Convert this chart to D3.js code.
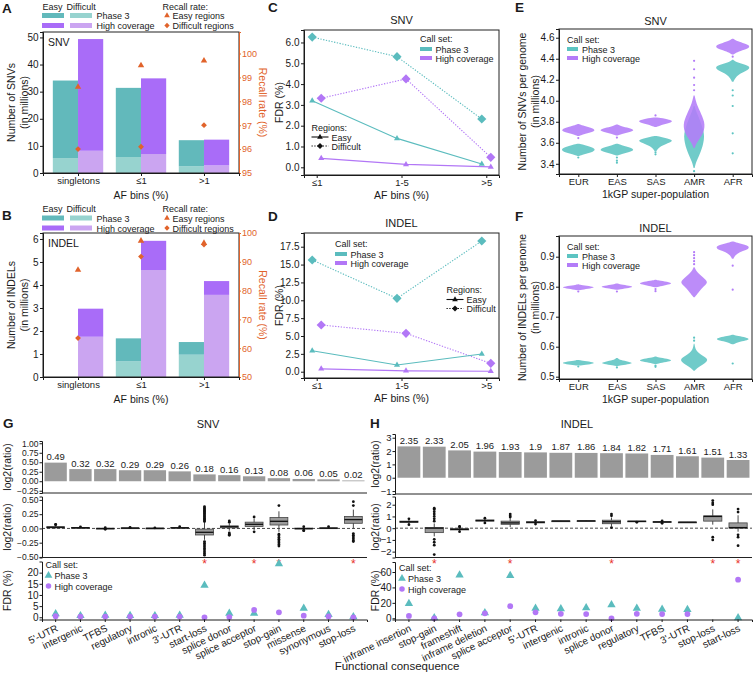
<!DOCTYPE html>
<html><head><meta charset="utf-8">
<script src="https://cdn.jsdelivr.net/npm/d3@7/dist/d3.min.js"></script>
<style>html,body{margin:0;padding:0;background:#fff;} svg{display:block;}</style>
</head><body>
<svg id="fig" width="754" height="675"></svg>
<script>
// ================= DATA =================
// Panels A / B
const afBinsAB = ["singletons", "≤1", ">1"];
const snvPhase3Total = [34.1, 31.4, 12.1];
const snvPhase3Difficult = [5.5, 5.9, 2.5];
const snvHighCovTotal = [49.4, 34.9, 12.3];
const snvHighCovDifficult = [8.2, 7.0, 2.8];
const snvRecallEasy = [98.6, 99.5, 99.7];
const snvRecallDifficult = [96.0, 96.1, 97.0];
const indelPhase3Total = [0, 1.68, 1.52];
const indelPhase3Difficult = [0, 0.68, 0.97];
const indelHighCovTotal = [2.97, 5.92, 4.17];
const indelHighCovDifficult = [1.75, 4.65, 3.57];
const indelRecallEasy = [87.2, 97.3, 96.5];
const indelRecallDifficult = [63.5, 91.8, 96.0];
const snvCountTicks = [0, 10, 20, 30, 40, 50];
const snvRecallTicks = [95, 96, 97, 98, 99, 100];
const indelCountTicks = [0, 1, 2, 3, 4, 5, 6];
const indelRecallTicks = [50, 60, 70, 80, 90, 100];

// Panels C / D
const afBinsCD = ["≤1", "1-5", ">5"];
const snvFdrP3Easy = [3.2, 1.39, 0.16];
const snvFdrP3Difficult = [6.26, 5.32, 2.32];
const snvFdrHCEasy = [0.43, 0.14, 0.02];
const snvFdrHCDifficult = [3.32, 4.25, 0.48];
const indelFdrP3Easy = [2.94, 0.94, 2.48];
const indelFdrP3Difficult = [15.64, 10.27, 18.3];
const indelFdrHCEasy = [0.4, 0.12, 0.06];
const indelFdrHCDifficult = [6.54, 5.37, 1.17];
const snvFdrTicks = [0, 1, 2, 3, 4, 5, 6];
const indelFdrTicks = [0, 2.5, 5, 7.5, 10, 12.5, 15, 17.5];

// Panels E / F : density profiles [value, relative width]
const populations = ["EUR", "EAS", "SAS", "AMR", "AFR"];
const snvSwarmPhase3 = [
  [[3.475,0.05],[3.495,0.45],[3.515,0.9],[3.535,1.0],[3.555,0.85],[3.575,0.45],[3.59,0.05]],
  [[3.48,0.05],[3.50,0.45],[3.52,0.9],[3.535,1.0],[3.555,0.8],[3.575,0.3],[3.59,0.05]],
  [[3.52,0.05],[3.56,0.2],[3.59,0.65],[3.61,0.95],[3.625,1.0],[3.645,0.6],[3.665,0.05]],
  [[3.36,0.03],[3.42,0.12],[3.48,0.3],[3.54,0.45],[3.60,0.55],[3.66,0.6],[3.72,0.55],[3.78,0.42],[3.84,0.28],[3.90,0.12],[3.95,0.03]],
  [[4.18,0.04],[4.22,0.15],[4.26,0.45],[4.29,0.85],[4.31,1.0],[4.33,0.95],[4.35,0.6],[4.37,0.2],[4.39,0.03]]
];
const snvSwarmHighCov = [
  [[3.665,0.05],[3.685,0.4],[3.705,0.9],[3.725,1.0],[3.745,0.7],[3.765,0.25],[3.78,0.03]],
  [[3.67,0.05],[3.69,0.45],[3.71,0.95],[3.725,1.0],[3.745,0.6],[3.765,0.15],[3.775,0.03]],
  [[3.75,0.05],[3.775,0.45],[3.795,0.95],[3.81,1.0],[3.825,0.75],[3.84,0.1]],
  [[3.55,0.03],[3.60,0.15],[3.65,0.38],[3.70,0.55],[3.75,0.62],[3.80,0.6],[3.85,0.48],[3.90,0.35],[3.95,0.2],[4.00,0.1],[4.05,0.03]],
  [[4.44,0.04],[4.47,0.35],[4.49,0.8],[4.51,1.0],[4.53,0.95],[4.55,0.6],[4.57,0.2],[4.59,0.03]]
];
const snvOutPhase3 = [[3.46], [3.41, 3.43, 3.46], [3.49, 3.51], [3.33], [4.1, 4.05, 3.95, 3.69, 3.5]];
const snvOutHighCov = [[3.645], [3.65], [3.86], [4.1, 4.15, 4.22, 4.3, 4.38], [4.42]];
const snvSwarmTicks = [3.4, 3.6, 3.8, 4.0, 4.2, 4.4, 4.6];

const indelSwarmPhase3 = [
  [[0.537,0.05],[0.541,0.6],[0.545,1.0],[0.549,0.8],[0.553,0.2],[0.556,0.03]],
  [[0.536,0.05],[0.540,0.5],[0.545,1.0],[0.550,0.7],[0.555,0.2],[0.562,0.04]],
  [[0.542,0.05],[0.548,0.5],[0.553,1.0],[0.558,0.85],[0.563,0.25],[0.567,0.03]],
  [[0.52,0.03],[0.53,0.2],[0.54,0.5],[0.55,0.75],[0.56,0.8],[0.57,0.5],[0.58,0.25],[0.59,0.1],[0.60,0.05],[0.61,0.02]],
  [[0.608,0.04],[0.615,0.3],[0.621,0.8],[0.626,1.0],[0.631,0.8],[0.636,0.3],[0.640,0.04]]
];
const indelSwarmHighCov = [
  [[0.788,0.05],[0.793,0.6],[0.797,1.0],[0.801,0.8],[0.805,0.2],[0.808,0.03]],
  [[0.790,0.05],[0.795,0.6],[0.799,1.0],[0.803,0.75],[0.807,0.2],[0.811,0.04]],
  [[0.798,0.05],[0.804,0.5],[0.810,1.0],[0.815,0.85],[0.820,0.25],[0.823,0.03]],
  [[0.765,0.03],[0.78,0.25],[0.795,0.45],[0.805,0.65],[0.815,0.8],[0.825,0.65],[0.835,0.45],[0.845,0.25],[0.855,0.1],[0.865,0.03]],
  [[0.893,0.04],[0.905,0.15],[0.915,0.4],[0.922,0.8],[0.930,1.0],[0.938,0.85],[0.945,0.35],[0.951,0.04]]
];
const indelOutPhase3 = [[0.534], [0.531], [0.537, 0.533], [0.62, 0.63], [0.544]];
const indelOutHighCov = [[0.784], [0.784], [0.792, 0.785], [0.875, 0.885, 0.895, 0.905, 0.915], [0.87, 0.79]];
const indelSwarmTicks = [0.5, 0.6, 0.7, 0.8, 0.9];

// Panel G (SNV functional consequences)
const snvConsequences = ["5'-UTR","intergenic","TFBS","regulatory","intronic","3'-UTR","start-loss","splice donor","splice acceptor","stop-gain","missense","synonymous","stop-loss"];
const snvLog2Ratio = [0.49, 0.32, 0.32, 0.29, 0.29, 0.26, 0.18, 0.16, 0.13, 0.08, 0.06, 0.05, 0.02];
const snvBoxQ1 =  [0.01, 0.008, -0.006, 0.003, 0.0, 0.005, -0.115, 0.01, 0.035, 0.06, -0.01, 0.0, 0.09];
const snvBoxMed = [0.02, 0.012, -0.002, 0.006, 0.002, 0.01, -0.068, 0.03, 0.072, 0.125, -0.003, 0.005, 0.155];
const snvBoxQ3 =  [0.03, 0.016, 0.003, 0.01, 0.005, 0.017, -0.012, 0.045, 0.11, 0.19, 0.005, 0.01, 0.21];
const snvBoxLo =  [0.0, 0.004, -0.012, -0.002, -0.003, -0.003, -0.2, -0.04, -0.03, -0.06, -0.025, -0.005, 0.0];
const snvBoxHi =  [0.05, 0.022, 0.008, 0.015, 0.008, 0.025, 0.1, 0.09, 0.17, 0.3, 0.02, 0.02, 0.33];
const snvBoxOutliers = [
  [0.07, 0.065], [0.028], [-0.015, 0.012], [0.02], [0.01], [0.03],
  [0.12,0.14,0.16,0.18,0.2,0.22,0.24,0.26,0.28,0.3,0.32,0.34,0.36,0.38,-0.23,-0.26,-0.29,-0.32,-0.35,-0.38,-0.41,-0.44,-0.47],
  [0.13, 0.11, -0.08, -0.1, -0.12], [0.2, -0.06],
  [0.4, -0.1, -0.13, -0.16, -0.19, -0.22, -0.25, -0.28, -0.31],
  [0.03, -0.04, -0.035], [0.03],
  [0.4, 0.47, -0.09, -0.12, -0.15, -0.18, -0.21, -0.23]
];
const snvFdrPhase3 = [1.5, 0.7, 0.9, 0.8, 0.7, 0.9, 14.3, 1.8, 1.8, 24.0, 4.0, 1.2, 0.2];
const snvFdrHighCov = [0.5, 0.3, 0.3, 0.3, 0.3, 0.3, 0.0, 0.1, 3.3, 2.2, 0.7, 0.4, 0.0];
const snvSignificant = ["start-loss", "splice acceptor", "stop-gain", "stop-loss"];
const snvTopTicks = [-0.25, 0, 0.25, 0.5, 0.75, 1.0];
const snvMidTicks = [-0.5, -0.25, 0, 0.25, 0.5];
const snvFdrAxisTicks = [0, 5, 10, 15, 20];

// Panel H (INDEL functional consequences)
const indelConsequences = ["inframe insertion","stop-gain","frameshift","inframe deletion","splice acceptor","5'-UTR","intergenic","intronic","splice donor","regulatory","TFBS","3'-UTR","stop-loss","start-loss"];
const indelLog2Ratio = [2.35, 2.33, 2.05, 1.96, 1.93, 1.9, 1.87, 1.86, 1.84, 1.82, 1.71, 1.61, 1.51, 1.33];
const indelBoxQ1 =  [0.48, -0.38, -0.15, 0.6, 0.33, 0.45, 0.6, 0.61, 0.38, 0.55, 0.5, 0.5, 0.6, 0.0];
const indelBoxMed = [0.55, 0.0, -0.1, 0.65, 0.45, 0.5, 0.61, 0.62, 0.55, 0.58, 0.53, 0.51, 1.0, 0.05];
const indelBoxQ3 =  [0.6, 0.05, -0.05, 0.7, 0.6, 0.55, 0.62, 0.63, 0.68, 0.61, 0.56, 0.52, 1.05, 0.45];
const indelBoxLo =  [0.35, -0.7, -0.25, 0.5, 0.1, 0.4, 0.59, 0.6, 0.15, 0.52, 0.45, 0.49, 0.3, -0.3];
const indelBoxHi =  [0.7, 0.4, 0.05, 0.8, 0.85, 0.6, 0.63, 0.64, 0.9, 0.63, 0.6, 0.53, 1.6, 1.1];
const indelBoxOutliers = [
  [0.8, 0.3], [0.6, 0.8, 1.0, 1.2, 1.4, 1.6, 1.7, -0.95, -1.2, -1.45, -2.25], [0.15, 0.1, -0.3], [0.85, 0.45],
  [0.95, 1.05, 1.2], [0.35, 0.65], [], [], [1.05, 1.2, 0.05], [0.5], [0.42, 0.62], [],
  [2.0, 2.15, 2.35, -0.77, -1.0], [1.37, 1.63, -0.57, -0.77, -1.49]
];
const indelFdrPhase3 = [19.1, 0.5, 56.0, 7.0, 55.5, 13.0, 12.2, 13.5, 17.4, 13.0, 11.7, 11.3, null, 0.5];
const indelFdrHighCov = [3.0, 0.0, 5.2, 6.5, 15.6, 7.8, 5.7, 5.5, 0.0, 5.7, 5.5, 5.5, null, 50.0];
const indelSignificant = ["stop-gain", "splice acceptor", "splice donor", "stop-loss", "start-loss"];
const indelTopTicks = [-1, 0, 1, 2, 3];
const indelMidTicks = [-2, -1, 0, 1, 2];
const indelFdrAxisTicks = [0, 20, 40, 60];

// ================= DRAWING =================
const svg = d3.select("#fig");
const FONT = "'Liberation Sans', Arial, Helvetica, sans-serif";
svg.attr("font-family", FONT);
const COL = {
  teal: "#62b9bb", tealL: "#97d3cf", purp: "#a96cf8", purpL: "#cba5f1",
  orange: "#e1632b", ink: "#222", lineTeal: "#5bbcbe", linePurp: "#b277f6",
  swTeal: "#5cc4c2", swPurp: "#b37cf8", bar: "#9b9b9b", red: "#e8312a"
};
const TXT = "#1a1a1a";
const LEG = 9;

function label(x, y, s, o = {}) {
  const t = svg.append("text").attr("x", x).attr("y", y).text(s)
    .attr("font-size", o.size || 10).attr("fill", o.fill || TXT)
    .attr("text-anchor", o.anchor || "start");
  if (o.weight) t.attr("font-weight", o.weight);
  if (o.rotate) t.attr("transform", `rotate(${o.rotate},${x},${y})`);
  return t;
}
function styleAxis(g, color, fs) {
  g.attr("font-family", FONT).attr("font-size", fs);
  g.selectAll("text").attr("fill", color);
  g.selectAll(".tick line").attr("stroke", color);
  g.select(".domain").attr("stroke", color);
}
function marker(g, type, x, y, size, fill) {
  const sym = type === "tri" ? d3.symbolTriangle : type === "dia" ? d3.symbolSquare : d3.symbolCircle;
  g.append("path").attr("d", d3.symbol(sym, size)()).attr("fill", fill)
    .attr("transform", `translate(${x},${y})` + (type === "dia" ? " rotate(45)" : ""));
}
function frame(g, x0, x1, yT, yB) {
  g.append("rect").attr("x", x0).attr("y", yT).attr("width", x1 - x0).attr("height", yB - yT)
    .attr("fill", "none").attr("stroke", COL.ink).attr("stroke-width", 1);
}
const fmtInt = d3.format("d");

// ---------- A / B ----------
function barPanel(o) {
  const g = svg.append("g");
  const x = d3.scalePoint(afBinsAB, [o.x0, o.x1]).padding(0.556);
  const y = d3.scaleLinear([0, o.yMax], [o.yB, o.yT]);
  const yr = d3.scaleLinear(o.rDom, [o.yB, o.yT]);
  const bw = x.step() * 0.4;
  [{tot: o.p3Tot, dif: o.p3Dif, off: -bw, dark: COL.teal, light: COL.tealL},
   {tot: o.hcTot, dif: o.hcDif, off: 0, dark: COL.purp, light: COL.purpL}].forEach(s => {
    afBinsAB.forEach((c, i) => {
      if (!(s.tot[i] > 0)) return;
      g.append("rect").attr("x", x(c) + s.off).attr("width", bw)
        .attr("y", y(s.dif[i])).attr("height", y(0) - y(s.dif[i])).attr("fill", s.light);
      g.append("rect").attr("x", x(c) + s.off).attr("width", bw)
        .attr("y", y(s.tot[i])).attr("height", y(s.dif[i]) - y(s.tot[i])).attr("fill", s.dark);
    });
  });
  afBinsAB.forEach((c, i) => {
    marker(g, "tri", x(c), yr(o.recE[i]), 18, COL.orange);
    marker(g, "dia", x(c), yr(o.recD[i]), 17, COL.orange);
  });
  frame(g, o.x0, o.x1, o.yT, o.yB);
  styleAxis(g.append("g").attr("transform", `translate(${o.x0},0)`)
    .call(d3.axisLeft(y).tickValues(o.lTicks).tickFormat(fmtInt).tickSize(3).tickPadding(1.5)), TXT, 10);
  styleAxis(g.append("g").attr("transform", `translate(${o.x1},0)`)
    .call(d3.axisRight(yr).tickValues(o.rTicks).tickFormat(fmtInt).tickSize(2).tickPadding(1)), COL.orange, 9);
  styleAxis(g.append("g").attr("transform", `translate(0,${o.yB})`)
    .call(d3.axisBottom(x).tickSize(3).tickPadding(1.5)), TXT, 9.5);
  const cy = (o.yT + o.yB) / 2;
  label(14.5, cy, o.ylab, {size: 10.5, anchor: "middle", rotate: -90});
  label(28, cy, "(in millions)", {size: 10.5, anchor: "middle", rotate: -90});
  label(258.5, cy, "Recall rate (%)", {size: 10.5, anchor: "middle", rotate: 90, fill: COL.orange});
  label((o.x0 + o.x1) / 2, o.yB + 26, "AF bins (%)", {size: 10.5, anchor: "middle"});
  label(o.x0 + 5, o.yT + 14, o.inner, {size: 10.5});
  // legend
  const ly = o.legY;
  label(42.5, ly, "Easy", {size: LEG});
  label(66.5, ly, "Difficult", {size: LEG});
  g.append("rect").attr("x", 42).attr("y", ly + 3.5).attr("width", 22).attr("height", 5).attr("fill", COL.teal);
  g.append("rect").attr("x", 70).attr("y", ly + 3.5).attr("width", 22).attr("height", 5).attr("fill", COL.tealL);
  g.append("rect").attr("x", 42).attr("y", ly + 13.5).attr("width", 22).attr("height", 5).attr("fill", COL.purp);
  g.append("rect").attr("x", 70).attr("y", ly + 13.5).attr("width", 22).attr("height", 5).attr("fill", COL.purpL);
  label(96.5, ly + 9.5, "Phase 3", {size: LEG});
  label(96.5, ly + 19.5, "High coverage", {size: LEG});
  label(162.5, ly, "Recall rate:", {size: LEG});
  marker(g, "tri", 167, ly + 6, 14, COL.orange);
  marker(g, "dia", 167, ly + 16, 14, COL.orange);
  label(172.5, ly + 9.5, "Easy regions", {size: LEG});
  label(172.5, ly + 19.5, "Difficult regions", {size: LEG});
}

barPanel({x0: 43, x1: 239, yT: 32, yB: 173, yMax: 52, rDom: [95, 100.9],
  p3Tot: snvPhase3Total, p3Dif: snvPhase3Difficult, hcTot: snvHighCovTotal, hcDif: snvHighCovDifficult,
  recE: snvRecallEasy, recD: snvRecallDifficult, lTicks: snvCountTicks, rTicks: snvRecallTicks,
  ylab: "Number of SNVs", inner: "SNV", legY: 9.5});
barPanel({x0: 43, x1: 239, yT: 233, yB: 377, yMax: 6.26, rDom: [50, 100],
  p3Tot: indelPhase3Total, p3Dif: indelPhase3Difficult, hcTot: indelHighCovTotal, hcDif: indelHighCovDifficult,
  recE: indelRecallEasy, recD: indelRecallDifficult, lTicks: indelCountTicks, rTicks: indelRecallTicks,
  ylab: "Number of INDELs", inner: "INDEL", legY: 212});

// ---------- C / D ----------
function linePanel(o) {
  const g = svg.append("g");
  const x = d3.scalePoint(afBinsCD, [o.x0, o.x1]).padding(0.15);
  const y = d3.scaleLinear(o.dom, [o.yB, o.yT]);
  const series = [
    {v: o.p3D, col: COL.lineTeal, dash: "1.3,1.5", sym: "dia", dx: -4.5},
    {v: o.hcD, col: COL.linePurp, dash: "1.3,1.5", sym: "dia", dx: 4.5},
    {v: o.p3E, col: COL.lineTeal, dash: null, sym: "tri", dx: -4.5},
    {v: o.hcE, col: COL.linePurp, dash: null, sym: "tri", dx: 4.5}];
  series.forEach(s => {
    const line = d3.line().x((d, i) => x(afBinsCD[i]) + s.dx).y(d => y(d));
    g.append("path").datum(s.v).attr("d", line).attr("fill", "none").attr("stroke", s.col)
      .attr("stroke-width", 1.1).attr("stroke-dasharray", s.dash);
    s.v.forEach((d, i) => marker(g, s.sym, x(afBinsCD[i]) + s.dx, y(d), s.sym === "dia" ? 42 : 16, s.col));
  });
  frame(g, o.x0, o.x1, o.yT, o.yB);
  styleAxis(g.append("g").attr("transform", `translate(${o.x0},0)`)
    .call(d3.axisLeft(y).tickValues(o.ticks).tickFormat(d3.format(".1f")).tickSize(3).tickPadding(1.5)), TXT, 10);
  styleAxis(g.append("g").attr("transform", `translate(0,${o.yB})`)
    .call(d3.axisBottom(x).tickSize(3).tickPadding(1)), TXT, 9.5);
  label(283, (o.yT + o.yB) / 2, "FDR (%)", {size: 10.5, anchor: "middle", rotate: -90});
  label((o.x0 + o.x1) / 2, o.yB + 23.5, "AF bins (%)", {size: 10.5, anchor: "middle"});
  label((o.x0 + o.x1) / 2, o.yT - 6, o.title, {size: 11, anchor: "middle"});
  // call set legend
  const c = o.cs;
  label(c.x, c.y, "Call set:", {size: LEG});
  g.append("rect").attr("x", c.x).attr("y", c.y + 5).attr("width", 12).attr("height", 4).attr("fill", COL.lineTeal);
  g.append("rect").attr("x", c.x).attr("y", c.y + 14).attr("width", 12).attr("height", 4).attr("fill", COL.linePurp);
  label(c.x + 15.5, c.y + 10.5, "Phase 3", {size: LEG});
  label(c.x + 15.5, c.y + 19.5, "High coverage", {size: LEG});
  // regions legend
  const r = o.rg;
  label(r.x, r.y, "Regions:", {size: LEG});
  g.append("line").attr("x1", r.x).attr("x2", r.x + 17).attr("y1", r.y + 6.5).attr("y2", r.y + 6.5).attr("stroke", "#111").attr("stroke-width", 1.1);
  g.append("line").attr("x1", r.x).attr("x2", r.x + 17).attr("y1", r.y + 15.5).attr("y2", r.y + 15.5).attr("stroke", "#111").attr("stroke-width", 1.1).attr("stroke-dasharray", "1.3,1.5");
  marker(g, "tri", r.x + 8.5, r.y + 6.5, 14, "#111");
  marker(g, "dia", r.x + 8.5, r.y + 15.5, 18, "#111");
  label(r.x + 20, r.y + 10, "Easy", {size: LEG});
  label(r.x + 20, r.y + 19, "Difficult", {size: LEG});
}
linePanel({x0: 304, x1: 499, yT: 30, yB: 175, dom: [-0.37, 6.6], ticks: snvFdrTicks,
  p3E: snvFdrP3Easy, p3D: snvFdrP3Difficult, hcE: snvFdrHCEasy, hcD: snvFdrHCDifficult,
  title: "SNV", cs: {x: 420, y: 42}, rg: {x: 311.5, y: 130.5}});
linePanel({x0: 304, x1: 499, yT: 233, yB: 378, dom: [-0.88, 19.42], ticks: indelFdrTicks,
  p3E: indelFdrP3Easy, p3D: indelFdrP3Difficult, hcE: indelFdrHCEasy, hcD: indelFdrHCDifficult,
  title: "INDEL", cs: {x: 335, y: 247}, rg: {x: 446.5, y: 293}});

// ---------- E / F ----------
function swarmPanel(o) {
  const g = svg.append("g");
  const x = d3.scalePoint(populations, [o.x0, o.x1]).padding(0.5);
  const y = d3.scaleLinear(o.dom, [o.yB, o.yT]);
  const W = 17;
  [{prof: o.p3, out: o.p3Out, col: COL.swTeal}, {prof: o.hc, out: o.hcOut, col: COL.swPurp}].forEach(s => {
    populations.forEach((p, i) => {
      const cx = x(p);
      const area = d3.area().y(d => y(d[0])).x0(d => cx - d[1] * W).x1(d => cx + d[1] * W).curve(d3.curveBasis);
      g.append("path").datum(s.prof[i]).attr("d", area).attr("fill", s.col).attr("fill-opacity", 0.88);
      s.out[i].forEach(v => g.append("circle").attr("cx", cx).attr("cy", y(v)).attr("r", 1.1).attr("fill", s.col));
    });
  });
  frame(g, o.x0, o.x1, o.yT, o.yB);
  styleAxis(g.append("g").attr("transform", `translate(${o.x0},0)`)
    .call(d3.axisLeft(y).tickValues(o.ticks).tickFormat(d3.format(".1f")).tickSize(3).tickPadding(1.5)), TXT, 10);
  styleAxis(g.append("g").attr("transform", `translate(0,${o.yB})`)
    .call(d3.axisBottom(x).tickSize(3).tickPadding(1.5)), TXT, 9.5);
  const cy = (o.yT + o.yB) / 2;
  label(525.5, cy, o.ylab, {size: 10.5, anchor: "middle", rotate: -90});
  label(538.5, cy, "(in millions)", {size: 10.5, anchor: "middle", rotate: -90});
  label((o.x0 + o.x1) / 2, o.yB + 23.5, "1kGP super-population", {size: 10.5, anchor: "middle"});
  label((o.x0 + o.x1) / 2, o.yT - 4.5, o.title, {size: 11, anchor: "middle"});
  label(567, o.yT + 14, "Call set:", {size: LEG});
  g.append("rect").attr("x", 567).attr("y", o.yT + 18).attr("width", 11).attr("height", 4).attr("fill", COL.swTeal);
  g.append("rect").attr("x", 567).attr("y", o.yT + 27).attr("width", 11).attr("height", 4).attr("fill", COL.swPurp);
  label(582, o.yT + 23.5, "Phase 3", {size: LEG});
  label(582, o.yT + 32.5, "High coverage", {size: LEG});
}
swarmPanel({x0: 559, x1: 752, yT: 29, yB: 174, dom: [3.303, 4.683], ticks: snvSwarmTicks,
  p3: snvSwarmPhase3, hc: snvSwarmHighCov, p3Out: snvOutPhase3, hcOut: snvOutHighCov,
  ylab: "Number of SNVs per genome", title: "SNV"});
swarmPanel({x0: 559, x1: 752, yT: 236, yB: 379, dom: [0.4923, 0.969], ticks: indelSwarmTicks,
  p3: indelSwarmPhase3, hc: indelSwarmHighCov, p3Out: indelOutPhase3, hcOut: indelOutHighCov,
  ylab: "Number of INDELs per genome", title: "INDEL"});

// ---------- G / H ----------
function consPanel(o) {
  const g = svg.append("g");
  const x = d3.scaleBand(o.cats, [o.x0, o.x1]).padding(0.1);
  const bw = x.bandwidth();
  const yT = d3.scaleLinear(o.topDom, [o.topB, o.topT]);
  const yM = d3.scaleLinear(o.midDom, [o.midB, o.midT]);
  const yF = d3.scaleLinear(o.fdrDom, [o.fdrB, o.fdrT]);
  // top bars
  o.cats.forEach((c, i) => {
    g.append("rect").attr("x", x(c)).attr("width", bw).attr("y", yT(o.ratio[i]))
      .attr("height", yT(0) - yT(o.ratio[i])).attr("fill", COL.bar);
    g.append("text").attr("x", x(c) + bw / 2).attr("y", yT(o.ratio[i]) - 2.5).text(String(o.ratio[i]))
      .attr("font-size", 9.5).attr("text-anchor", "middle").attr("fill", TXT);
  });
  styleAxis(g.append("g").attr("transform", `translate(${o.x0},0)`)
    .call(d3.axisLeft(yT).tickValues(o.topTicks).tickFormat(o.fmt).tickSize(2.5).tickPadding(1)), TXT, o.tickFs);
  g.append("line").attr("x1", o.x0).attr("x2", o.x1).attr("y1", o.topB).attr("y2", o.topB).attr("stroke", COL.ink);
  // middle boxplots
  g.append("line").attr("x1", o.x0).attr("x2", o.x1).attr("y1", yM(0)).attr("y2", yM(0))
    .attr("stroke", "#333").attr("stroke-dasharray", "3,2").attr("stroke-width", 0.9);
  const boxW = bw * 0.8;
  o.cats.forEach((c, i) => {
    const cx = x(c) + bw / 2;
    g.append("line").attr("x1", cx).attr("x2", cx).attr("y1", yM(o.lo[i])).attr("y2", yM(o.hi[i])).attr("stroke", "#333").attr("stroke-width", 0.9);
    g.append("rect").attr("x", cx - boxW / 2).attr("width", boxW).attr("y", yM(o.q3[i]))
      .attr("height", Math.max(0.8, yM(o.q1[i]) - yM(o.q3[i]))).attr("fill", COL.bar).attr("stroke", "#444").attr("stroke-width", 0.8);
    g.append("line").attr("x1", cx - boxW / 2).attr("x2", cx + boxW / 2).attr("y1", yM(o.med[i])).attr("y2", yM(o.med[i]))
      .attr("stroke", "#111").attr("stroke-width", 1.3);
    o.out[i].forEach(v => g.append("circle").attr("cx", cx).attr("cy", yM(v)).attr("r", 1.4).attr("fill", "#111"));
  });
  styleAxis(g.append("g").attr("transform", `translate(${o.x0},0)`)
    .call(d3.axisLeft(yM).tickValues(o.midTicks).tickFormat(o.fmt).tickSize(2.5).tickPadding(1)), TXT, o.tickFs);
  g.append("line").attr("x1", o.x0).attr("x2", o.x1).attr("y1", o.midB).attr("y2", o.midB).attr("stroke", COL.ink);
  // significance stars
  o.sig.forEach(c => {
    g.append("text").attr("x", x(c) + bw / 2).attr("y", o.midB + 10).text("*")
      .attr("font-size", 12).attr("text-anchor", "middle").attr("fill", COL.red);
  });
  // FDR points
  o.cats.forEach((c, i) => {
    const cx = x(c) + bw / 2;
    if (o.fdrP3[i] != null) marker(g, "tri", cx, yF(o.fdrP3[i]), 30, COL.lineTeal);
    if (o.fdrHC[i] != null) marker(g, "circle", cx, yF(o.fdrHC[i]), 26, COL.linePurp);
  });
  styleAxis(g.append("g").attr("transform", `translate(${o.x0},0)`)
    .call(d3.axisLeft(yF).tickValues(o.fdrTicks).tickFormat(fmtInt).tickSize(2.5).tickPadding(1)), TXT, 10);
  const bx = g.append("g").attr("transform", `translate(0,${o.fdrB})`)
    .call(d3.axisBottom(x).tickSize(2.5).tickFormat(""));
  styleAxis(bx, TXT, 10);
  o.cats.forEach(c => {
    const ax = x(c) + bw / 2 + 3, ay = o.fdrB + 11;
    g.append("text").attr("x", ax).attr("y", ay).text(c).attr("font-size", 10).attr("fill", TXT)
      .attr("text-anchor", "end").attr("transform", `rotate(-26,${ax},${ay})`);
  });
  // axis titles
  label(o.ytx, (o.topT + o.topB) / 2, "log2(ratio)", {size: 10.5, anchor: "middle", rotate: -90});
  label(o.ytx, (o.midT + o.midB) / 2, "log2(ratio)", {size: 10.5, anchor: "middle", rotate: -90});
  label(o.ytx, (o.fdrT + o.fdrB) / 2, "FDR (%)", {size: 10.5, anchor: "middle", rotate: -90});
  label(o.titleX, 428, o.title, {size: 11, anchor: "middle"});
  // legend
  const l = o.leg;
  label(l.x, l.y, "Call set:", {size: LEG});
  marker(g, "tri", l.x + 3, l.y + 7.5, 26, COL.lineTeal);
  marker(g, "circle", l.x + 3, l.y + 18, 24, COL.linePurp);
  label(l.x + 9, l.y + 11, "Phase 3", {size: LEG});
  label(l.x + 9, l.y + 21.5, "High coverage", {size: LEG});
}
consPanel({cats: snvConsequences, x0: 42, x1: 367, ratio: snvLog2Ratio,
  topDom: [-0.31, 1.06], topB: 493, topT: 441, topTicks: snvTopTicks, fmt: d3.format(".2f"), tickFs: 8.5,
  midDom: [-0.51, 0.56], midB: 557.5, midT: 496.5, midTicks: snvMidTicks,
  q1: snvBoxQ1, med: snvBoxMed, q3: snvBoxQ3, lo: snvBoxLo, hi: snvBoxHi, out: snvBoxOutliers,
  sig: snvSignificant, fdrDom: [-1, 25], fdrB: 619.5, fdrT: 561.5, fdrTicks: snvFdrAxisTicks,
  fdrP3: snvFdrPhase3, fdrHC: snvFdrHighCov, ytx: 10.5, title: "SNV", titleX: 208, leg: {x: 45.5, y: 568}});
consPanel({cats: indelConsequences, x0: 395, x1: 752, ratio: indelLog2Ratio,
  topDom: [-1.22, 3.28], topB: 494, topT: 434, topTicks: indelTopTicks, fmt: d3.format("d"), tickFs: 9.5,
  midDom: [-2.5, 2.7], midB: 557.5, midT: 496.5, midTicks: indelMidTicks,
  q1: indelBoxQ1, med: indelBoxMed, q3: indelBoxQ3, lo: indelBoxLo, hi: indelBoxHi, out: indelBoxOutliers,
  sig: indelSignificant, fdrDom: [-1.6, 73], fdrB: 619.5, fdrT: 562, fdrTicks: indelFdrAxisTicks,
  fdrP3: indelFdrPhase3, fdrHC: indelFdrHighCov, ytx: 379, title: "INDEL", titleX: 577, leg: {x: 399, y: 571}});
label(397, 670, "Functional consequence", {size: 11.5, anchor: "middle"});

// panel letters
[["A", 2, 13], ["B", 2, 220], ["C", 268, 12], ["D", 268, 221], ["E", 515, 12], ["F", 515, 221], ["G", 3, 428], ["H", 370, 428]]
  .forEach(([s, x, y]) => label(x, y, s, {size: 13.5, weight: "bold"}));
</script>
</body></html>
